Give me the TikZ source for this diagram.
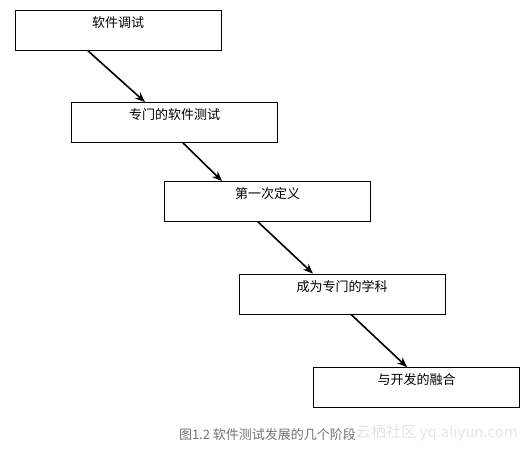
\documentclass[tikz,border=0pt]{standalone}
\usepackage{fontspec}
\newfontfamily\cjk{Noto Sans CJK SC}
\usetikzlibrary{arrows.meta}

\begin{document}
\begin{tikzpicture}[x=1pt, y=-1pt, stage/.style={draw, line width=0.8pt, minimum width=206pt, inner sep=0pt, text height=17pt, text depth=23pt, font=\cjk\fontsize{13}{15}\selectfont}, arr/.style={-{Stealth[length=10pt, width=8pt]}, line width=1.6pt}]
\useasboundingbox (0,0) rectangle (532,453);
\node[stage] (tiaoshi) at (118,30.5) {软件调试};
\node[stage] (zhuanmen) at (174.5,122.5) {专门的软件测试};
\node[stage] (dingyi) at (267.5,201.5) {第一次定义};
\node[stage] (xueke) at (342,294) {成为专门的学科};
\node[stage] (ronghe) at (416.5,387.5) {与开发的融合};
\draw[arr] ([xshift=-30pt]tiaoshi.south) -- ([xshift=-29.5pt]zhuanmen.north);
\draw[arr] ([xshift=8.5pt]zhuanmen.south) -- ([xshift=-45.5pt]dingyi.north);
\draw[arr] ([xshift=-9.5pt]dingyi.south) -- ([xshift=-29pt]xueke.north);
\draw[arr] ([xshift=9pt]xueke.south) -- ([xshift=-9.5pt]ronghe.north);
\node[font=\cjk\fontsize{15}{17}\selectfont, text=black!10] (shuiyin) at (437,433) {云栖社区 yq.aliyun.com};
\node[font=\cjk\fontsize{13}{15}\selectfont, text=black!55] (tuming) at (267.5,435) {图1.2 软件测试发展的几个阶段};
\end{tikzpicture}
\end{document}
